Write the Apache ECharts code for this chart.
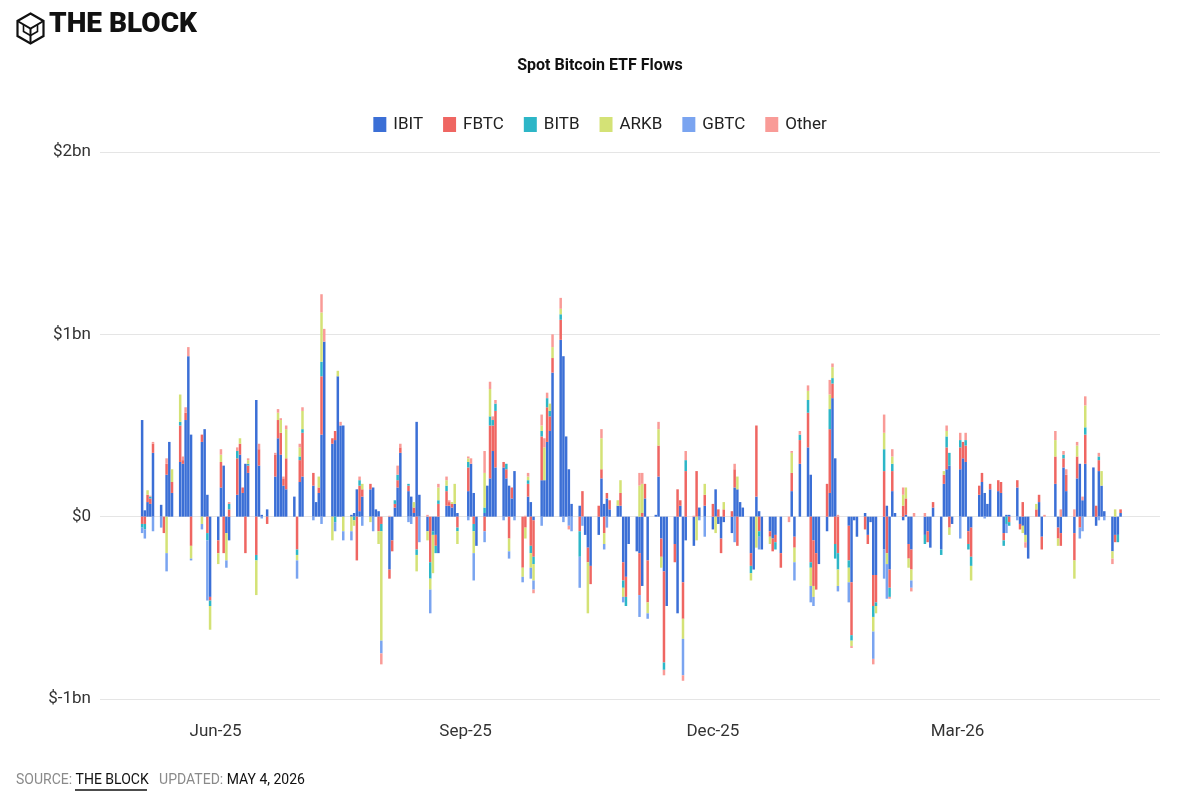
<!DOCTYPE html>
<html>
<head>
<meta charset="utf-8">
<script src="https://cdn.jsdelivr.net/npm/echarts@6/dist/echarts.min.js"></script>
<style>
  html, body { margin: 0; padding: 0; background: #fff; }
  #chart { width: 1200px; height: 800px; }
</style>
</head>
<body>
<div id="chart"></div>
<script>
// Daily net flows in $M, one row per week (Mon..Fri), null = market closed.
// First row is the week of 5 May 2025, last row the week of 27 Apr 2026.
const firstWeek = '2025-05-05';
const axisStart = '2025-04-20';
const axisDays = 390;

const ibit = [
  [530,35,80,70,350], [65,0,230,410,130], [300,290,530,880,450], [null,410,480,120,-440],
  [-130,160,280,-90,-130], [120,340,130,290,240], [640,280,10,null,40], [220,430,340,170,150],
  [110,0,190,220,null], [170,80,130,450,960], [400,420,770,500,500], [10,20,150,30,110],
  [150,160,40,30,0], [-290,-130,50,160,350], [140,110,20,520,120], [-80,0,-80,-100,-200],
  [60,60,50,70,20], [null,140,290,130,-160], [20,170,210,360,270], [270,210,170,100,250],
  [0,0,110,80,-20], [200,200,410,470,790], [970,880,440,260,70], [60,0,-100,-170,-270],
  [-100,210,70,100,40], [60,60,-250,-330,-150], [-190,-200,-380,100,-240], [10,220,-120,-300,-490],
  [-150,-530,60,-360,-130], [-160,0,50,null,60], [-70,150,-40,-120,-30], [-90,160,150,80,50],
  [-200,-290,110,30,-180], [-80,-120,-100,null,-200], [0,140,-110,null,290], [380,230,-130,-200,-260],
  [-80,130,650,320,0], [null,-50,-360,-20,-110], [20,-100,-30,-320,-320], [-180,60,-290,140,20],
  [-20,10,-150,-180,0], [null,-100,-80,-170,50], [-180,180,260,280,-40], [260,320,300,-80,-60],
  [120,190,130,70,150], [140,130,-90,10,10], [160,-40,-50,-100,-230], [0,80,-110,0,null],
  [180,-60,-90,270,140], [-90,210,290,90,290], [270,-50,250,170,30], [-190,-100,-100,20,null]
];
const fbtc = [
  [-40,-40,40,30,50], [0,-90,60,0,60], [200,20,40,0,-160], [null,40,0,-90,-20],
  [-70,140,-200,0,40], [200,60,30,-200,40], [-210,90,0,null,-40], [120,100,120,40,170],
  [0,-180,120,240,null], [70,0,30,320,0], [30,50,0,0,0], [0,0,-240,140,40],
  [30,0,0,-80,-40], [-50,-60,20,40,30], [30,0,30,-180,0], [0,-250,0,-60,70],
  [80,20,20,0,-60], [null,130,0,-40,0], [-80,0,290,140,310], [30,50,-120,60,0],
  [-280,-60,70,-160,-200], [240,0,190,80,80], [110,0,0,0,0], [-80,140,0,-80,-100],
  [60,50,-90,30,50], [0,70,-100,-110,0], [0,-230,20,80,-230], [0,170,-100,-500,0],
  [-100,150,30,-200,250], [0,250,0,null,60], [70,0,40,-80,40], [30,100,-160,0,0],
  [-70,0,390,-80,0], [-30,-70,-40,null,-80], [0,100,-60,null,130], [190,-250,-250,-200,0],
  [180,350,80,-150,-200], [null,-190,-290,0,0], [-70,-50,0,-170,-150], [250,-200,-100,110,0],
  [60,90,-80,-110,0], [null,0,-60,0,30], [0,50,120,-60,0], [120,90,90,-70,-160],
  [50,50,0,0,30], [60,60,-40,0,-30], [40,-30,80,0,0], [40,40,-70,0,null],
  [150,-60,-70,50,90], [-150,120,-60,0,160], [0,60,60,0,0], [0,-40,0,20,null]
];
const bitb = [
  [-20,-30,0,10,0], [0,0,0,0,0], [20,0,0,0,0], [null,0,0,-40,-30],
  [0,0,0,0,30], [40,0,0,0,10], [-30,0,0,null,0], [0,0,0,0,0],
  [0,-30,20,20,null], [0,0,0,80,0], [0,-30,0,0,0], [0,-20,0,30,0],
  [0,0,0,0,-40], [0,0,20,30,0], [10,0,0,-30,0], [0,-90,-20,-40,20],
  [30,0,0,0,-20], [null,30,0,-40,0], [30,0,50,30,40], [0,30,0,0,0],
  [0,0,20,-40,-40], [30,0,50,30,0], [30,0,0,0,0], [-140,0,0,0,0],
  [0,0,0,0,0], [0,0,-40,-50,0], [0,0,0,0,0], [0,0,0,-40,0],
  [0,0,0,0,60], [0,0,0,null,0], [0,0,0,0,0], [0,0,0,0,0],
  [-40,0,0,-30,0], [0,0,-40,null,0], [0,0,0,null,30], [70,-30,0,0,0],
  [0,110,30,-80,-90], [null,-40,-30,0,0], [0,0,0,-60,-20], [120,0,-50,40,0],
  [0,0,0,0,0], [null,-50,0,0,0], [-30,0,60,70,0], [40,0,30,-30,-50],
  [0,0,0,0,0], [0,0,-30,-40,-20], [0,0,0,0,0], [0,0,0,0,null],
  [0,0,0,20,0], [0,0,0,0,40], [0,0,20,0,0], [0,0,-40,0,null]
];
const arkb = [
  [0,0,25,0,0], [0,0,-200,0,70], [150,0,0,0,-70], [null,-40,0,0,-130],
  [-60,40,0,-150,0], [0,30,0,0,20], [-190,0,0,null,0], [0,40,70,0,160],
  [0,-30,50,100,null], [0,0,60,270,0], [-130,0,30,0,-80], [-80,-30,0,0,30],
  [-30,0,0,-70,-600], [0,0,0,0,0], [0,0,30,-90,0], [-50,-60,-210,0,70],
  [30,0,10,110,-70], [null,20,0,-120,0], [190,0,150,0,0], [0,0,-70,0,0],
  [-50,-60,20,-80,-90], [30,180,0,40,60], [30,0,0,0,0], [0,0,0,-280,0],
  [0,170,-60,0,0], [30,70,-50,0,0], [0,170,160,0,-60], [0,90,-60,0,0],
  [0,0,0,-110,0], [0,-130,0,null,60], [0,-90,0,0,40], [0,0,70,0,0],
  [-40,0,-170,0,0], [-40,0,0,null,0], [0,110,-80,null,0], [50,-100,-60,0,0],
  [0,80,60,0,-90], [null,-80,-30,0,0], [0,0,0,-80,-40], [90,-60,0,40,0],
  [60,60,-50,-60,0], [null,0,0,0,0], [0,20,30,-40,0], [0,0,0,0,-80],
  [0,0,0,0,0], [0,0,0,0,0], [0,0,-40,-40,0], [30,0,0,0,null],
  [90,-40,0,0,0], [-100,60,0,0,120], [0,0,0,80,0], [-40,40,0,0,null]
];
const gbtc = [
  [-30,-50,0,0,-80], [-60,0,-100,0,0], [0,0,0,0,-10], [null,-30,0,-330,0],
  [0,0,0,-40,0], [0,0,0,0,0], [0,0,-10,null,0], [0,0,0,0,0],
  [0,-100,0,0,null], [-20,0,0,-40,0], [0,-50,0,0,-50], [-50,0,0,0,-50],
  [0,-80,0,0,-70], [0,0,0,0,0], [-30,-40,0,0,-140], [0,-130,0,0,0],
  [0,0,0,0,0], [null,-20,0,-150,0], [-60,0,0,0,0], [-20,0,-40,0,-20],
  [-30,0,0,-60,-50], [-50,0,0,0,0], [0,-30,0,-50,-80], [-170,-50,0,0,0],
  [0,0,-30,-60,0], [0,0,-30,0,0], [0,-120,0,0,-30], [0,0,0,0,0],
  [0,0,0,-200,0], [0,0,-20,null,-110], [0,0,0,0,0], [0,-140,0,0,0],
  [0,0,0,-70,0], [0,0,0,null,0], [0,0,-100,null,0], [0,-90,-50,0,0],
  [0,0,0,0,-30], [null,-110,0,0,0], [0,0,0,-150,0], [-160,-190,0,0,0],
  [0,0,0,-40,0], [null,0,0,0,0], [0,0,0,0,0], [-120,0,0,0,0],
  [0,0,-10,0,0], [0,0,0,-50,0], [-20,0,0,0,0], [0,0,0,0,null],
  [0,0,0,0,0], [0,0,-60,-80,0], [0,0,-20,0,-20], [0,0,0,0,null]
];
const other = [
  [0,0,0,5,10], [0,0,30,0,0], [0,20,30,50,0], [null,0,0,0,0],
  [0,30,0,0,10], [20,0,0,0,10], [0,30,0,null,0], [10,20,10,10,20],
  [0,0,20,20,null], [0,0,0,100,70], [0,0,0,20,0], [0,0,0,20,0],
  [0,0,0,0,-60], [5,0,0,50,20], [0,0,0,0,0], [10,0,0,0,20],
  [20,10,0,0,0], [null,10,30,0,0], [120,0,40,20,20], [0,0,0,0,0],
  [0,5,20,0,-20], [60,50,30,0,70], [60,0,0,-20,0], [0,0,0,0,0],
  [0,50,0,0,0], [0,0,0,0,0], [0,70,60,0,0], [0,40,0,-30,0],
  [0,0,0,-30,50], [5,0,0,null,0], [0,0,0,0,0], [0,30,0,0,0],
  [0,0,0,0,0], [0,0,0,null,0], [-30,10,0,null,20], [30,0,0,0,0],
  [0,80,20,0,10], [null,0,-10,0,0], [0,0,0,-30,0], [100,0,-10,40,0],
  [40,0,0,-20,20], [null,20,0,0,0], [0,0,30,0,0], [40,0,40,0,0],
  [0,0,0,0,0], [0,0,0,0,0], [0,0,0,-30,0], [0,0,0,10,null],
  [50,0,40,20,30], [40,20,0,20,50], [0,0,20,0,0], [-30,0,0,0,null]
];

const seriesNames = ['IBIT', 'FBTC', 'BITB', 'ARKB', 'GBTC', 'Other'];
const seriesWeeks = [ibit, fbtc, bitb, arkb, gbtc, other];
const colors = ['#3b6fd6', '#ef6662', '#2db6c7', '#d4e276', '#7aa4f0', '#f99b97'];
const yTicks = [-1000, 0, 1000, 2000];
const xLabelMonths = [5, 8, 11, 2]; // Jun, Sep, Dec, Mar
const monthNames = ['Jan','Feb','Mar','Apr','May','Jun','Jul','Aug','Sep','Oct','Nov','Dec'];

const DAY = 86400000;
const t0 = Date.parse(axisStart + 'T00:00:00Z');
const dates = [];
for (let i = 0; i < axisDays; i++) {
  const d = new Date(t0 + i * DAY);
  dates.push(d.toISOString().slice(0, 10));
}
const weekOffset = dates.indexOf(firstWeek);

function toDaily(weeks) {
  const out = new Array(axisDays).fill(null);
  weeks.forEach((wk, w) => {
    wk.forEach((v, d) => { out[weekOffset + w * 7 + d] = v; });
  });
  return out;
}

const chart = echarts.init(document.getElementById('chart'));
const font = 'Roboto, "Noto Sans", sans-serif';

chart.setOption({
  animation: false,
  textStyle: { fontFamily: font },
  color: colors,
  title: {
    text: 'Spot Bitcoin ETF Flows',
    left: 'center',
    top: 53,
    textStyle: { fontSize: 16, fontWeight: 'bold', color: '#111', fontFamily: font }
  },
  legend: {
    data: seriesNames,
    top: 111,
    left: 'center',
    icon: 'rect',
    itemWidth: 13,
    itemHeight: 15,
    itemGap: 20,
    textStyle: { fontSize: 17, color: '#222', fontFamily: font, padding: [0, 0, 0, 2] }
  },
  grid: { left: 100, right: 40, top: 152, bottom: 101, containLabel: false },
  xAxis: {
    type: 'category',
    data: dates,
    boundaryGap: true,
    axisLine: { show: false },
    axisTick: { show: false },
    axisLabel: {
      interval: (idx, val) => {
        const m = +val.slice(5, 7) - 1;
        return val.slice(8) === '01' && xLabelMonths.includes(m);
      },
      formatter: val => monthNames[+val.slice(5, 7) - 1] + '-' + val.slice(2, 4),
      fontSize: 17,
      color: '#333',
      margin: 24,
      fontFamily: font
    }
  },
  yAxis: {
    type: 'value',
    min: yTicks[0],
    max: yTicks[yTicks.length - 1],
    interval: 1000,
    axisLine: { show: false },
    axisTick: { show: false },
    splitLine: { lineStyle: { color: '#e5e5e5', width: 1 } },
    axisLabel: {
      formatter: v => v === 0 ? '$0' : '$' + (v / 1000) + 'bn',
      fontSize: 17,
      color: '#333',
      margin: 9,
      fontFamily: font
    }
  },
  series: seriesNames.map((name, i) => ({
    name: name,
    type: 'bar',
    stack: 'flows',
    barWidth: 2.5,
    data: toDaily(seriesWeeks[i]),
    itemStyle: { color: colors[i] }
  })),
  graphic: [
    {
      type: 'group',
      left: 15,
      top: 11,
      children: [
        { type: 'polygon', shape: { points: [[13,0],[26,7.5],[26,22.5],[13,30],[0,22.5],[0,7.5]] },
          style: { fill: 'none', stroke: '#111', lineWidth: 2.2 } },
        { type: 'polyline', shape: { points: [[0,7.5],[13,15],[26,7.5]] },
          style: { fill: 'none', stroke: '#111', lineWidth: 2 } },
        { type: 'polyline', shape: { points: [[13,15],[13,30]] },
          style: { fill: 'none', stroke: '#111', lineWidth: 2 } },
        { type: 'polyline', shape: { points: [[6,11],[6,18],[13,22],[20,18],[20,11]] },
          style: { fill: 'none', stroke: '#111', lineWidth: 1.6 } }
      ]
    },
    {
      type: 'text',
      left: 49,
      top: 11,
      style: { text: 'THE BLOCK', fontSize: 28, fontWeight: 900, fill: '#111', fontFamily: font }
    },
    {
      type: 'text',
      left: 16,
      top: 773,
      style: {
        text: '{g|SOURCE: }{k|THE BLOCK}{g|   UPDATED: }{k|MAY 4, 2026}',
        rich: {
          g: { fontSize: 14, fill: '#8a8a8a', fontFamily: font },
          k: { fontSize: 14, fill: '#111', fontFamily: font }
        }
      }
    },
    {
      type: 'line',
      shape: { x1: 75, y1: 790, x2: 147, y2: 790 },
      style: { stroke: '#111', lineWidth: 1.5 }
    }
  ]
});
</script>
</body>
</html>
